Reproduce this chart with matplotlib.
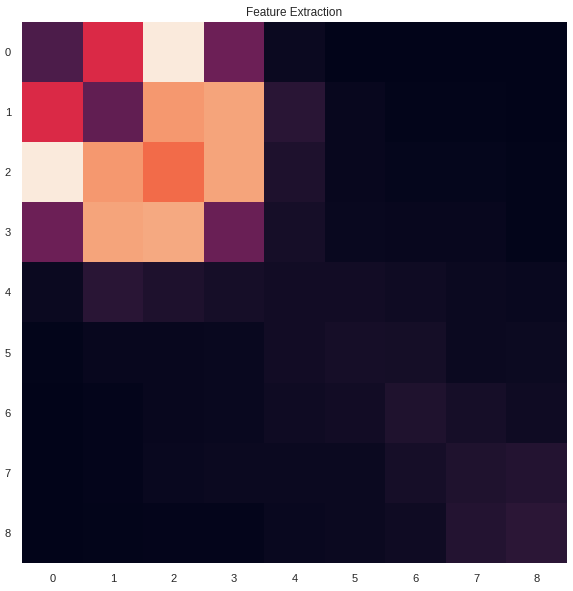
import numpy as np
import matplotlib
matplotlib.use("Agg")
import matplotlib.pyplot as plt
import seaborn as sns

sns.set_style("white")
plt.rcParams['font.family'] = ['Liberation Sans', 'DejaVu Sans']

title = "Feature Extraction"
labels = ["0", "1", "2", "3", "4", "5", "6", "7", "8"]
row0 = [0.20, 0.55, 1.00, 0.28, 0.03, 0.00, 0.00, 0.00, 0.00]
row1 = [0.55, 0.25, 0.79, 0.82, 0.11, 0.02, 0.005, 0.005, 0.00]
row2 = [1.00, 0.79, 0.69, 0.82, 0.08, 0.02, 0.015, 0.015, 0.005]
row3 = [0.28, 0.82, 0.83, 0.27, 0.06, 0.025, 0.02, 0.02, 0.005]
row4 = [0.03, 0.11, 0.08, 0.06, 0.05, 0.05, 0.04, 0.03, 0.025]
row5 = [0.005, 0.02, 0.02, 0.025, 0.05, 0.06, 0.055, 0.03, 0.035]
row6 = [0.00, 0.01, 0.02, 0.025, 0.04, 0.05, 0.085, 0.06, 0.04]
row7 = [0.00, 0.01, 0.025, 0.03, 0.03, 0.03, 0.06, 0.085, 0.095]
row8 = [0.00, 0.005, 0.01, 0.01, 0.025, 0.03, 0.04, 0.095, 0.115]

data = np.array([row0, row1, row2, row3, row4, row5, row6, row7, row8])

fig = plt.figure(figsize=(5.73, 5.91), dpi=100)
ax = fig.add_axes([22/573, 1 - 563/591, 545/573, 541/591])
ax.imshow(data, cmap="rocket", vmin=0, vmax=1, aspect="auto", interpolation="nearest")
ax.set_xticks(range(len(labels)))
ax.set_xticklabels(labels)
ax.set_yticks(range(len(labels)))
ax.set_yticklabels(labels)
ax.tick_params(labelsize=8, colors="#262626", length=0, pad=8)
ax.set_title(title, fontsize=8.5, color="#262626", pad=4)
for s in ax.spines.values():
    s.set_visible(False)
fig.savefig("out.png", dpi=100)
